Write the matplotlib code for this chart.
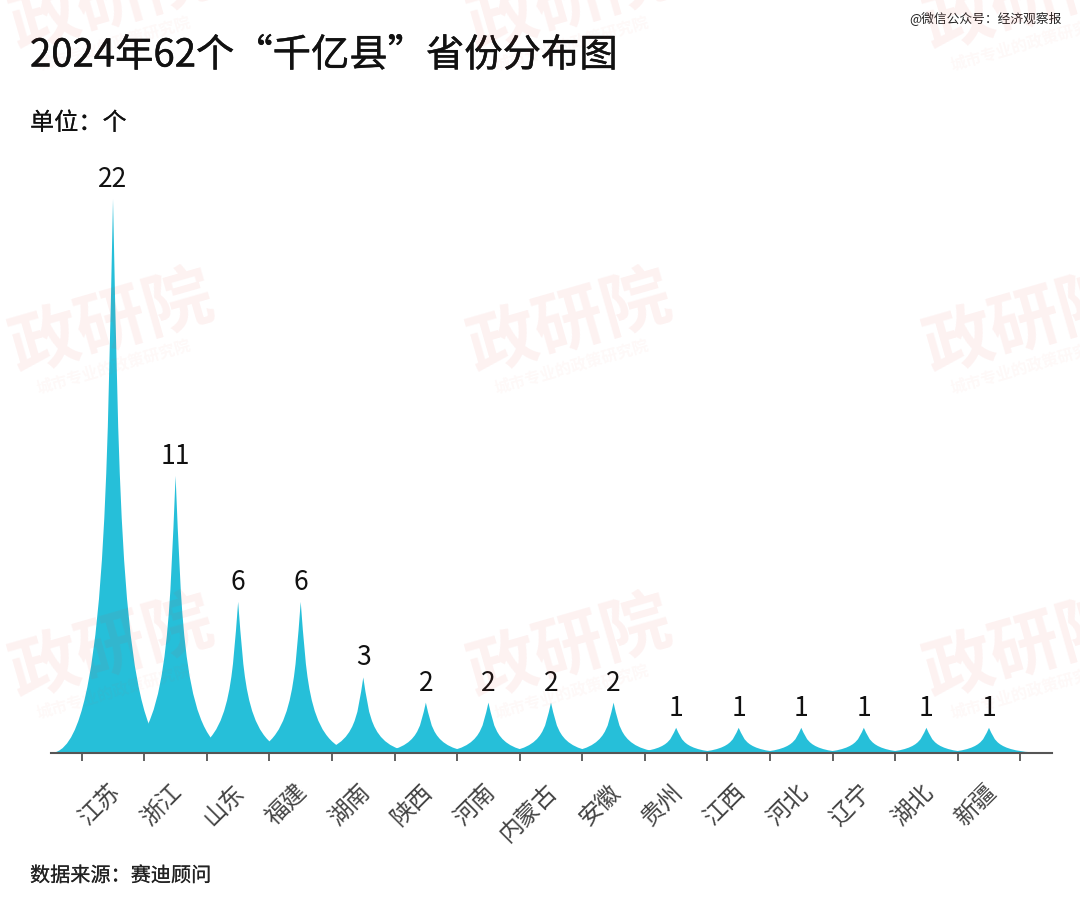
import matplotlib
matplotlib.use("Agg")
import matplotlib.pyplot as plt
import matplotlib.patheffects as pe
from matplotlib.path import Path
from matplotlib.patches import PathPatch

plt.rcParams['font.family'] = ['Noto Sans CJK SC', 'DejaVu Sans']

provinces = ["江苏", "浙江", "山东", "福建", "湖南", "陕西", "河南", "内蒙古", "安徽",
             "贵州", "江西", "河北", "辽宁", "湖北", "新疆"]
counts = [22, 11, 6, 6, 3, 2, 2, 2, 2, 1, 1, 1, 1, 1, 1]
title = "2024年62个“千亿县”省份分布图"
unit = "单位：个"
source = "数据来源：赛迪顾问"
credit = "@微信公众号：经济观察报"
wm_main = "政研院"
wm_sub = "城市专业的政策研究院"

W, H = 1080, 918
fig = plt.figure(figsize=(W / 100, H / 100), dpi=100, facecolor="white")


def fx(px):
    return px / W


def fy(px):
    return 1 - px / H


# axes: baseline at y=753, x from 51 to 1052
ax = fig.add_axes([fx(51), fy(753), (1052 - 51) / W, (753 - 151) / H])
ax.set_xlim(-0.991, 15.007)
ax.set_ylim(0, 23.9)
ax.patch.set_alpha(0)

color = "#26BFD9"
for i, v in enumerate(counts):
    verts = [(i - 1, 0), (i + 1, 0),
             (i + 0.1, 0), (i + 0.1, v / 2), (i, v),
             (i - 0.1, v / 2), (i - 0.1, 0), (i - 1, 0),
             (i - 1, 0)]
    codes = [Path.MOVETO, Path.LINETO,
             Path.CURVE4, Path.CURVE4, Path.CURVE4,
             Path.CURVE4, Path.CURVE4, Path.CURVE4,
             Path.CLOSEPOLY]
    ax.add_patch(PathPatch(Path(verts, codes), facecolor=color, edgecolor="none", zorder=2))
    ax.annotate(str(v), (i, v), xytext=(0, 6), textcoords="offset pixels",
                ha="center", va="bottom", fontsize=19, color="#111111")

for s in ("top", "right", "left"):
    ax.spines[s].set_visible(False)
ax.spines["bottom"].set_color("#555555")
ax.spines["bottom"].set_linewidth(1.5)
ax.spines["bottom"].set_zorder(3)
ax.set_yticks([])
ax.set_xticks([i - 0.5 for i in range(len(provinces) + 1)])
ax.set_xticklabels([])
ax.tick_params(axis="x", length=6, width=1.3, color="#555555", direction="out")

for i, name in enumerate(provinces):
    ax.annotate(name, (i, 0), xytext=(-5, -27), textcoords="offset pixels",
                rotation=45, ha="right", va="top", rotation_mode="anchor",
                fontsize=17, color="#444444")

# watermarks
for cx in (112, 570, 1026):
    for cy in (325, 650, 2):
        fig.text(fx(cx), fy(cy), wm_main, rotation=16, ha="center", va="center",
                 fontsize=50, fontweight="bold", color="#E8403A", alpha=0.07, zorder=5)
        fig.text(fx(cx + 2), fy(cy + 42), wm_sub, rotation=16, ha="center", va="center",
                 fontsize=11.5, fontweight="bold", color="#E8403A", alpha=0.035, zorder=5)

fig.text(fx(30), fy(56), title, fontsize=27.6, color="#111111", ha="left", va="center",
         path_effects=[pe.withStroke(linewidth=0.3, foreground="#111111")])
fig.text(fx(30), fy(123), unit, fontsize=17.4, color="#111111", ha="left", va="center",
         path_effects=[pe.withStroke(linewidth=0.1, foreground="#111111")])
fig.text(fx(30), fy(876), source, fontsize=14.5, color="#222222", ha="left", va="center",
         path_effects=[pe.withStroke(linewidth=0.1, foreground="#222222")])
fig.text(fx(1062), fy(19), credit, fontsize=9.2, color="#222222", ha="right", va="center")

fig.savefig("out.png", dpi=100)
